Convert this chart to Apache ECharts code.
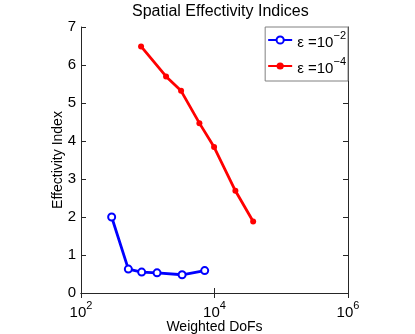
<!DOCTYPE html>
<html>
<head>
<meta charset="utf-8">
<script src="https://cdn.jsdelivr.net/npm/echarts@6/dist/echarts.min.js"></script>
<style>
  html, body { margin: 0; padding: 0; background: #fff; }
</style>
</head>
<body>
<div id="main" style="width:415px;height:334px"></div>
<script>
// data
var blueX = [288, 512, 811, 1378, 3270, 7130]
var blueY = [2.0, 0.63, 0.55, 0.53, 0.48, 0.59]
var redX = [794, 1880, 3157, 5940, 9860, 20560, 37930]
var redY = [6.49, 5.70, 5.32, 4.47, 3.84, 2.69, 1.88]
var seriesNames = ['ε =10-2', 'ε =10-4']
var seriesExp = ['−2', '−4']
var yTicks = [0, 1, 2, 3, 4, 5, 6, 7]

function pairs (xs, ys) {
  var out = []
  xs.forEach(function (x, i) { out.push([x, ys[i]]) })
  return out
}

var font = 'Liberation Sans, Arial, Helvetica, sans-serif'
var axisColor = '#262626'

var chart = echarts.init(document.getElementById('main'))
var option = {
  animation: false,
  title: {
    text: 'Spatial Effectivity Indices',
    left: 127,
    top: -1,
    textStyle: { fontFamily: font, fontSize: 16, fontWeight: 'normal', color: '#000' }
  },
  grid: { left: 81, right: 67, top: 27, bottom: 41, outerBoundsMode: 'none', containLabel: false },
  legend: {
    orient: 'vertical',
    right: 67,
    top: 27,
    backgroundColor: '#fff',
    borderColor: '#808080',
    borderWidth: 1,
    borderRadius: 0,
    padding: [3, 2, 5, 2],
    itemGap: 6,
    itemWidth: 24,
    itemHeight: 9,
    data: seriesNames,
    formatter: function (name) {
      var i = seriesNames.indexOf(name)
      return '{t|ε =10}{s|' + seriesExp[i] + '}'
    },
    textStyle: {
      fontFamily: font,
      color: '#000',
      rich: {
        t: { fontFamily: font, fontSize: 15, color: '#000', verticalAlign: 'bottom', lineHeight: 17 },
        s: { fontFamily: font, fontSize: 11, color: '#000', verticalAlign: 'top', lineHeight: 20 }
      }
    }
  },
  xAxis: [
    {
      type: 'log',
      logBase: 10,
      min: 100,
      max: 1000000,
      interval: 2,
      name: 'Weighted DoFs',
      nameLocation: 'middle',
      nameMoveOverlap: false,
      nameGap: 27,
      nameTextStyle: { fontFamily: font, fontSize: 14, color: '#000' },
      axisLine: { lineStyle: { color: axisColor, width: 1 } },
      axisTick: { inside: true, length: 5, lineStyle: { color: axisColor } },
      minorTick: { show: false },
      splitLine: { show: false },
      axisLabel: {
        margin: 7,
        fontFamily: font,
        formatter: function (v) {
          var e = Math.round(Math.log10(v))
          return '{t|10}{s|' + e + '}'
        },
        rich: {
          t: { fontFamily: font, fontSize: 15, color: '#000', verticalAlign: 'bottom', lineHeight: 17 },
          s: { fontFamily: font, fontSize: 11, color: '#000', verticalAlign: 'top', lineHeight: 20 }
        }
      }
    },
    {
      type: 'log',
      logBase: 10,
      min: 100,
      max: 1000000,
      interval: 2,
      position: 'top',
      axisLine: { lineStyle: { color: axisColor, width: 1 } },
      axisTick: { inside: true, length: 5, lineStyle: { color: axisColor } },
      axisLabel: { show: false },
      splitLine: { show: false }
    }
  ],
  yAxis: [
    {
      type: 'value',
      min: yTicks[0],
      max: yTicks[yTicks.length - 1],
      interval: 1,
      name: 'Effectivity Index',
      nameLocation: 'middle',
      nameMoveOverlap: false,
      nameGap: 16,
      nameTextStyle: { fontFamily: font, fontSize: 14, color: '#000' },
      axisLine: { show: true, lineStyle: { color: axisColor, width: 1 } },
      axisTick: { show: true, inside: true, length: 5, lineStyle: { color: axisColor } },
      splitLine: { show: false },
      axisLabel: { margin: 5, fontFamily: font, fontSize: 15, color: '#000' }
    },
    {
      type: 'value',
      min: yTicks[0],
      max: yTicks[yTicks.length - 1],
      interval: 1,
      position: 'right',
      axisLine: { show: true, lineStyle: { color: axisColor, width: 1 } },
      axisTick: { show: true, inside: true, length: 5, lineStyle: { color: axisColor } },
      splitLine: { show: false },
      axisLabel: { show: false }
    }
  ],
  series: [
    {
      name: seriesNames[0],
      type: 'line',
      data: pairs(blueX, blueY),
      color: '#0000ff',
      lineStyle: { width: 2.8, color: '#0000ff' },
      symbol: 'emptyCircle',
      symbolSize: 7,
      itemStyle: { color: '#0000ff', borderColor: '#0000ff', borderWidth: 2 }
    },
    {
      name: seriesNames[1],
      type: 'line',
      data: pairs(redX, redY),
      color: '#ff0000',
      lineStyle: { width: 2.8, color: '#ff0000' },
      symbol: 'circle',
      symbolSize: 6,
      itemStyle: { color: '#ff0000' }
    }
  ]
}
chart.setOption(option)
</script>
</body>
</html>
